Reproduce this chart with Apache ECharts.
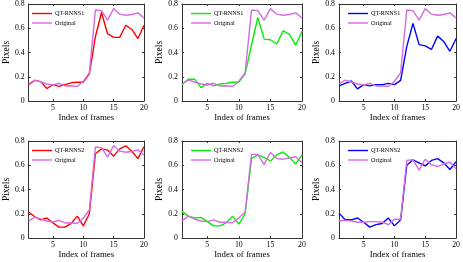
<!DOCTYPE html>
<html><head><meta charset="utf-8">
<script src="https://cdn.jsdelivr.net/npm/echarts@6/dist/echarts.min.js"></script>
<style>html,body{margin:0;padding:0;background:#fff}#c{width:463px;height:262px}</style>
</head><body><div id="c"></div>
<script>
const frames = [1,2,3,4,5,6,7,8,9,10,11,12,13,14,15,16,17,18,19,20];
const xTicks = [5,10,15,20];
const yTicks = [0,0.2,0.4,0.6,0.8];

const originalR = [0.14,0.172,0.157,0.14,0.132,0.146,0.124,0.126,0.12,0.163,0.232,0.75,0.745,0.667,0.762,0.716,0.707,0.713,0.727,0.684];
const originalG = [0.14,0.18,0.155,0.14,0.135,0.15,0.13,0.13,0.125,0.165,0.215,0.69,0.69,0.605,0.705,0.655,0.65,0.66,0.67,0.62];
const originalB = [0.14,0.145,0.14,0.13,0.13,0.135,0.135,0.13,0.11,0.155,0.155,0.64,0.645,0.56,0.65,0.605,0.59,0.61,0.625,0.57];

const rnns1R = [0.135,0.17,0.16,0.103,0.135,0.12,0.135,0.15,0.155,0.155,0.225,0.53,0.73,0.555,0.525,0.525,0.625,0.59,0.515,0.625];
const rnns1G = [0.135,0.18,0.18,0.11,0.145,0.125,0.14,0.145,0.155,0.155,0.225,0.46,0.69,0.51,0.505,0.47,0.58,0.55,0.46,0.575];
const rnns1B = [0.125,0.145,0.165,0.1,0.135,0.125,0.135,0.135,0.145,0.135,0.17,0.45,0.64,0.465,0.455,0.425,0.535,0.49,0.41,0.515];

const rnns2R = [0.215,0.175,0.15,0.165,0.125,0.09,0.09,0.12,0.18,0.1,0.2,0.695,0.735,0.725,0.675,0.735,0.76,0.715,0.655,0.755];
const rnns2G = [0.22,0.18,0.165,0.17,0.135,0.1,0.1,0.125,0.18,0.115,0.2,0.655,0.685,0.665,0.635,0.685,0.71,0.665,0.61,0.685];
const rnns2B = [0.205,0.15,0.15,0.165,0.13,0.09,0.11,0.12,0.165,0.1,0.15,0.6,0.645,0.62,0.595,0.64,0.655,0.62,0.565,0.63];

const legendNames = ['QT-RNNS1','QT-RNNS1','QT-RNNS1','QT-RNNS2','QT-RNNS2','QT-RNNS2'];
const xName = 'Index of frames';
const yName = 'Pixels';
const origName = 'Original';

const panels = [
  {q: rnns1R, o: originalR, c: '#ff0000', g: {left:23, top:4, width:121, height:97}},
  {q: rnns1G, o: originalR, c: '#00f000', g: {left:182, top:4, width:120, height:97}},
  {q: rnns1B, o: originalR, c: '#0000ff', g: {left:339, top:4, width:121, height:97}},
  {q: rnns2R, o: originalR, c: '#ff0000', g: {left:23, top:141, width:121, height:97}},
  {q: rnns2G, o: originalG, c: '#00f000', g: {left:182, top:141, width:120, height:97}},
  {q: rnns2B, o: originalB, c: '#0000ff', g: {left:339, top:141, width:121, height:97}}
];
const pink = '#d46ce0';
const font = 'Liberation Serif';
const axisCol = '#333';

const option = {animation:false, grid:[], xAxis:[], yAxis:[], series:[]};
panels.forEach((p, i) => {
  option.grid.push(Object.assign({containLabel:false}, p.g));
  const common = {gridIndex:i, type:'value', min:1, max:20,
    axisLine:{onZero:false, lineStyle:{color:axisCol, width:1}},
    splitLine:{show:false}};
  option.xAxis.push(Object.assign({}, common, {position:'bottom',
    name:xName, nameLocation:'middle', nameGap:12,
    nameTextStyle:{fontFamily:font, fontSize:8.8, color:'#000'},
    axisTick:{inside:true, length:2, customValues:xTicks, lineStyle:{color:axisCol}},
    axisLabel:{customValues:xTicks, fontFamily:font, fontSize:7.8, color:'#000', margin:3}}));
  option.xAxis.push(Object.assign({}, common, {position:'top',
    axisTick:{inside:true, length:2, customValues:xTicks, lineStyle:{color:axisCol}},
    axisLabel:{show:false}}));
  const ycommon = {gridIndex:i, type:'value', min:0, max:0.8, interval:0.2,
    axisLine:{show:true, onZero:false, lineStyle:{color:axisCol, width:1}},
    splitLine:{show:false},
    axisTick:{show:true, inside:true, length:2, lineStyle:{color:axisCol}}};
  option.yAxis.push(Object.assign({}, ycommon, {position:'left',
    name:yName, nameLocation:'middle', nameGap:16,
    nameTextStyle:{fontFamily:font, fontSize:9.5, color:'#000'},
    axisLabel:{fontFamily:font, fontSize:7.8, color:'#000', margin:4,
      formatter: v => v === 0 ? '0' : v.toFixed(1)}}));
  option.yAxis.push(Object.assign({}, ycommon, {position:'right', axisLabel:{show:false}}));
  const qname = legendNames[i];
  option.series.push({type:'line', name:qname, xAxisIndex:2*i, yAxisIndex:2*i,
    data: frames.map((f,k)=>[f, p.q[k]]), symbol:'none', color:p.c,
    lineStyle:{color:p.c, width:1.4}});
  option.series.push({type:'line', name:origName, xAxisIndex:2*i, yAxisIndex:2*i,
    data: frames.map((f,k)=>[f, p.o[k]]), symbol:'none', color:pink,
    lineStyle:{color:pink, width:1.4}});
});

const chart = echarts.init(document.getElementById('c'), null, {renderer:'canvas'});
chart.setOption(option);

// legends drawn with graphic elements in each grid's top-left corner
const gfx = [];
panels.forEach((p, i) => {
  const x0 = p.g.left + 9, y0 = p.g.top + 9.5;
  [[legendNames[i], p.c], [origName, pink]].forEach(([name, col], r) => {
    const y = y0 + r * 9.5;
    gfx.push({type:'line', shape:{x1:x0, y1:y, x2:x0+20, y2:y}, style:{stroke:col, lineWidth:1.4}, silent:true});
    gfx.push({type:'text', x:x0+23, y:y, style:{text:name, fill:'#000', font:'6.2px "Liberation Serif"', verticalAlign:'middle', align:'left'}, silent:true});
  });
});
chart.setOption({graphic: gfx});
</script></body></html>
